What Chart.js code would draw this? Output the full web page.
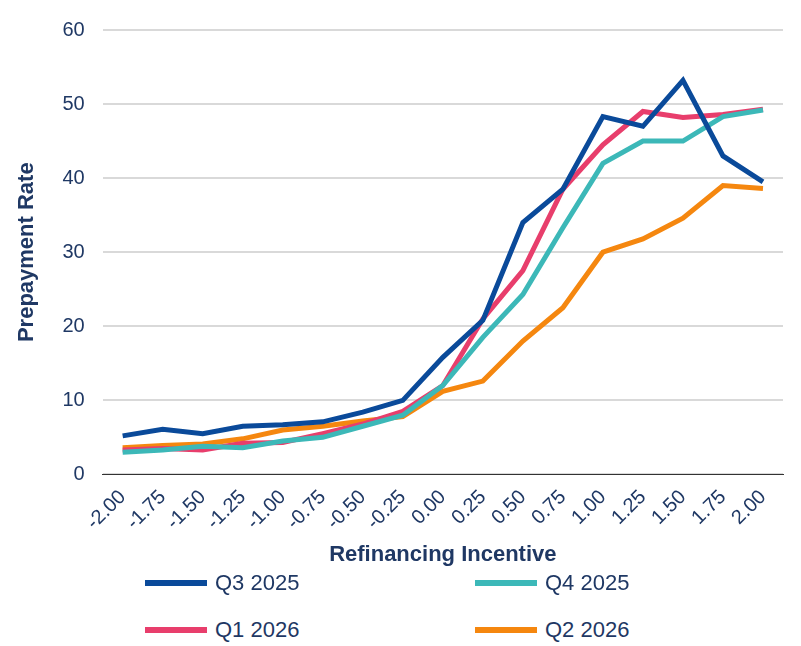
<!DOCTYPE html>
<html><head><meta charset="utf-8">
<script src="https://cdn.jsdelivr.net/npm/chart.js@4"></script>
<style>
body{margin:0;background:#fff;font-family:"Liberation Sans",Arial,sans-serif;}
#wrap{position:relative;width:801px;height:572px;}
#legend{position:absolute;top:566px;left:0;width:801px;}
.item{position:absolute;display:flex;align-items:center;font-size:22px;color:#1f3864;}
.sw{width:62px;height:6px;margin-right:8px;}
</style></head><body>
<div id="wrap"><canvas id="c" width="801" height="572"></canvas></div>
<div id="legend"></div>
<script>
const categories=["-2.00","-1.75","-1.50","-1.25","-1.00","-0.75","-0.50","-0.25","0.00","0.25","0.50","0.75","1.00","1.25","1.50","1.75","2.00"];
const q3_2025=[5.2,6.1,5.5,6.5,6.7,7.1,8.4,10,15.8,20.8,34,38.5,48.3,47,53.2,43,39.5];
const q4_2025=[3.0,3.3,3.8,3.6,4.5,5.0,6.5,8.0,12,18.5,24.3,33.3,42,45,45,48.3,49.2];
const q1_2026=[3.3,3.5,3.3,4.2,4.3,5.5,6.8,8.5,12,21,27.5,38.5,44.5,49,48.2,48.6,49.3];
const q2_2026=[3.6,3.9,4.1,4.8,6.0,6.5,7.2,7.8,11.2,12.6,18,22.5,30,31.8,34.6,39,38.6];
const names=["Q3 2025","Q4 2025","Q1 2026","Q2 2026"];
const colors=["#0a4a9a","#3cb8b8","#e83e6c","#f5870f"];
const series=[q3_2025,q4_2025,q1_2026,q2_2026];
const navy="#1f3864";
new Chart(document.getElementById('c'),{type:'line',
data:{labels:categories,datasets:series.map((d,i)=>({label:names[i],data:d,borderColor:colors[i],backgroundColor:colors[i],borderWidth:5,pointRadius:0,tension:0,order:i}))},
options:{responsive:false,animation:false,devicePixelRatio:1,maintainAspectRatio:false,
layout:{padding:{left:10,right:18,top:10,bottom:0}},
plugins:{legend:{display:false},tooltip:{enabled:false}},
scales:{x:{offset:true,grid:{display:false,drawTicks:true},border:{color:"#333",width:1},
 ticks:{color:navy,font:{size:20,family:"Liberation Sans"},maxRotation:45,minRotation:45,autoSkip:false},
 title:{display:true,text:"Refinancing Incentive",color:navy,font:{size:22,weight:"bold",family:"Liberation Sans"}}},
 y:{min:0,max:60,ticks:{stepSize:10,color:navy,font:{size:20,family:"Liberation Sans"},padding:18},
 grid:{color:"#d9d9d9",lineWidth:2,drawTicks:false},border:{display:false},
 title:{display:true,text:"Prepayment Rate",color:navy,font:{size:22,weight:"bold",family:"Liberation Sans"}}}}}});
const pos=[[145,583],[475,583],[145,630],[475,630]];
const lg=document.getElementById('legend');
names.forEach((n,i)=>{const d=document.createElement('div');d.className='item';d.style.left=pos[i][0]+'px';d.style.top=(pos[i][1]-566-13)+'px';d.innerHTML='<span class="sw" style="background:'+colors[i]+'"></span>'+n;lg.appendChild(d);});
</script></body></html>
